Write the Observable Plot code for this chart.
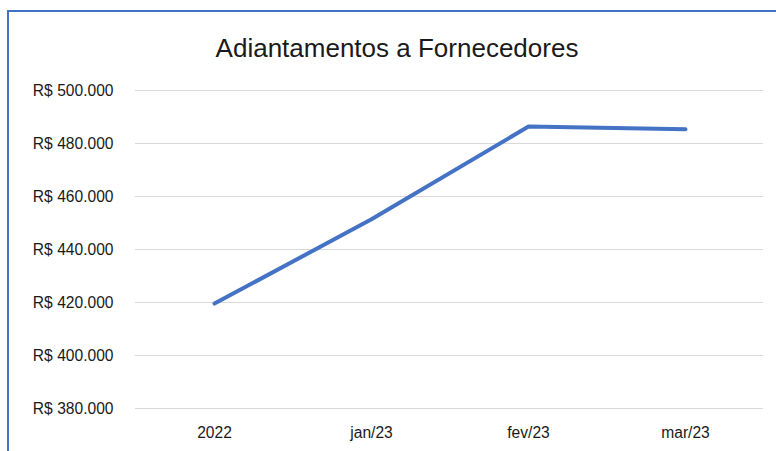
<!DOCTYPE html>
<html>
<head>
<meta charset="utf-8">
<script src="https://cdn.jsdelivr.net/npm/d3@7"></script>
<script src="https://cdn.jsdelivr.net/npm/@observablehq/plot@0.6"></script>
<style>
  html, body { margin: 0; padding: 0; background: #fff; }
  #wrap { position: relative; width: 776px; height: 451px; overflow: hidden; }
  #frame { position: absolute; left: 7px; top: 10px; width: 800px; height: 500px;
           border-top: 2px solid #4472C4; border-left: 2px solid #4472C4; pointer-events: none; }
</style>
</head>
<body>
<div id="wrap"><div id="frame"></div></div>
<script>
const title = "Adiantamentos a Fornecedores";
const categories = ["2022", "jan/23", "fev/23", "mar/23"];
const values = [419600, 451400, 486400, 485400];
const yTicks = [380000, 400000, 420000, 440000, 460000, 480000, 500000];

const data = categories.map((c, i) => ({cat: c, value: values[i]}));
const locale = d3.formatLocale({decimal: ",", thousands: ".", grouping: [3], currency: ["R$ ", ""]});
const fmt = locale.format("$,.0f");

const chart = Plot.plot({
  width: 776,
  height: 451,
  marginLeft: 135,
  marginRight: 13,
  marginTop: 90,
  marginBottom: 43,
  style: {fontFamily: "Liberation Sans", fontSize: "15.6px", color: "#1a1a1a", background: "#fff"},
  x: {type: "point", domain: categories, padding: 0.5, label: null},
  y: {domain: [380000, 500000], label: null},
  marks: [
    Plot.ruleY(yTicks, {stroke: "#d9d9d9", strokeWidth: 1.2}),
    Plot.axisY({ticks: yTicks, tickFormat: fmt, tickSize: 0, tickPadding: 22, label: null, fontSize: 15.6}),
    Plot.axisX({tickSize: 0, tickPadding: 18, label: null, fontSize: 15.6}),
    Plot.line(data, {x: "cat", y: "value", stroke: "#4472C4", strokeWidth: 4, strokeLinecap: "round", strokeLinejoin: "round"}),
    Plot.text([title], {frameAnchor: "top-left", dx: 261.5, dy: -42, textAnchor: "middle", lineAnchor: "middle", fontSize: 26, fill: "#1a1a1a"})
  ]
});
document.getElementById("wrap").insertBefore(chart, document.getElementById("frame"));
</script>
</body>
</html>
